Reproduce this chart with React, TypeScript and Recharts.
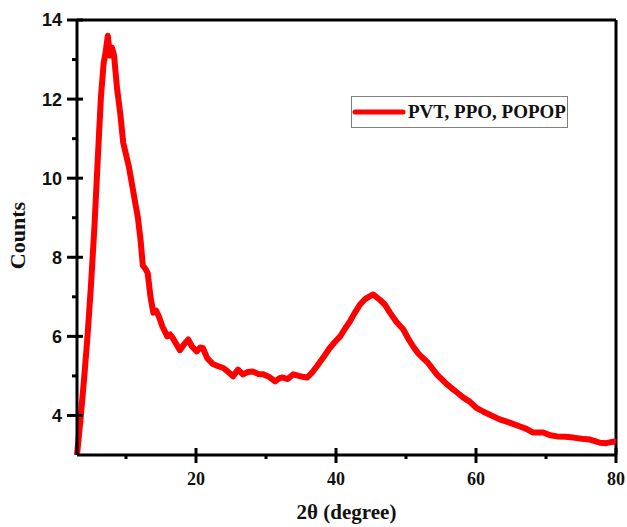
import React from 'react';
import {
  LineChart,
  Line,
  XAxis,
  YAxis,
  Legend,
  ReferenceLine,
} from 'recharts';

// 2θ positions (degree) and counts
const twoTheta = [
  3.0, 3.5, 4.0, 4.5, 5.0, 5.5, 6.0, 6.4, 6.8, 7.1, 7.4, 7.7, 8.0, 8.3, 8.7,
  9.2, 9.6, 10.0, 10.4, 10.9, 11.3, 11.7, 12.1, 12.4, 12.8, 13.1, 13.5, 13.9,
  14.3, 14.7, 15.2, 15.9, 16.3, 16.7, 17.2, 17.7, 18.3, 18.9, 19.4, 20.1, 20.6,
  21.0, 21.6, 22.4, 23.1, 23.9, 24.6, 25.3, 26.0, 26.7, 27.4, 28.1, 28.9, 29.6,
  30.4, 31.3, 32.0, 32.4, 33.1, 33.9, 34.7, 35.4, 35.9, 36.6, 37.3, 38.2, 39.0,
  39.8, 40.6, 41.3, 42.0, 42.7, 43.4, 44.2, 45.3, 46.3, 47.0, 47.7, 48.7, 49.6,
  50.3, 51.0, 51.7, 52.3, 53.1, 53.8, 54.4, 55.2, 55.9, 56.6, 57.3, 58.2, 59.1,
  60.0, 61.0, 62.2, 63.4, 64.8, 66.3, 67.2, 68.1, 69.6, 70.6, 71.6, 72.8, 73.9,
  75.1, 76.3, 77.0, 77.7, 78.6, 79.6, 80.0,
];

const counts = [
  3.0, 3.9, 4.9, 6.0, 7.3, 8.8, 10.6, 12.0, 12.9, 13.2, 13.6, 13.1, 13.3, 13.1,
  12.3, 11.6, 10.9, 10.6, 10.3, 9.8, 9.4, 9.0, 8.4, 7.8, 7.7, 7.6, 7.0, 6.6,
  6.65, 6.5, 6.25, 6.0, 6.05, 5.95, 5.8, 5.65, 5.8, 5.92, 5.75, 5.62, 5.72, 5.7,
  5.45, 5.3, 5.25, 5.2, 5.1, 4.99, 5.16, 5.04, 5.1, 5.11, 5.05, 5.04, 4.98,
  4.86, 4.95, 4.96, 4.92, 5.04, 5.0, 4.97, 4.96, 5.09, 5.25, 5.47, 5.68, 5.85,
  6.0, 6.2, 6.38, 6.6, 6.8, 6.95, 7.06, 6.92, 6.8, 6.6, 6.35, 6.18, 5.95, 5.75,
  5.58, 5.47, 5.34, 5.18, 5.04, 4.9, 4.78, 4.68, 4.58, 4.45, 4.35, 4.2, 4.1,
  4.0, 3.9, 3.82, 3.72, 3.66, 3.57, 3.57, 3.5, 3.47, 3.46, 3.44, 3.41, 3.39,
  3.35, 3.31, 3.3, 3.34, 3.32,
];

const xTicks = [10, 20, 30, 40, 50, 60, 70, 80];
const yTicks = [4, 5, 6, 7, 8, 9, 10, 11, 12, 13, 14];

const seriesName = 'PVT, PPO, POPOP';

const data = twoTheta.map((x, i) => ({ x, y: counts[i] }));

const serif = '"Liberation Serif", "Times New Roman", serif';
const sans = '"Liberation Sans", Arial, sans-serif';

const XTick = (props: any) => {
  const { x, y, payload } = props;
  const major = payload.value % 20 === 0;
  return (
    <g>
      {major ? (
        <line x1={x} x2={x} y1={y - 7} y2={y + 8} stroke="#000" strokeWidth={3} />
      ) : (
        <line x1={x} x2={x} y1={y} y2={y + 4} stroke="#000" strokeWidth={3} />
      )}
      {major && (
        <text
          x={x}
          y={y + 30}
          textAnchor="middle"
          style={{ fontFamily: serif, fontWeight: 'bold', fontSize: 18, fill: '#111' }}
        >
          {payload.value}
        </text>
      )}
    </g>
  );
};

const YTick = (props: any) => {
  const { x, y, payload } = props;
  const major = payload.value % 2 === 0;
  return (
    <g>
      {major ? (
        <line x1={x - 10} x2={x + 6} y1={y} y2={y} stroke="#000" strokeWidth={3} />
      ) : (
        <line x1={x - 5} x2={x} y1={y} y2={y} stroke="#000" strokeWidth={3} />
      )}
      {major && (
        <text
          x={x - 15}
          y={y}
          dy="0.36em"
          textAnchor="end"
          style={{ fontFamily: sans, fontWeight: 'bold', fontSize: 18, fill: '#111' }}
        >
          {payload.value}
        </text>
      )}
    </g>
  );
};

const LegendBox = () => (
  <div
    style={{
      width: 217,
      height: 32,
      boxSizing: 'border-box',
      border: '1px solid #808080',
      background: '#fff',
      display: 'flex',
      alignItems: 'center',
    }}
  >
    <svg width={56} height={10}>
      <line x1={3} x2={51} y1={5} y2={5} stroke="#ff0000" strokeWidth={5} strokeLinecap="round" />
    </svg>
    <span
      style={{
        fontFamily: serif,
        fontWeight: 'bold',
        fontSize: 19,
        color: '#111',
        whiteSpace: 'nowrap',
      }}
    >
      {seriesName}
    </span>
  </div>
);

export default function App() {
  return (
    <div style={{ position: 'absolute', left: 0, top: 0, background: '#fff' }}>
      <LineChart
        width={627}
        height={527}
        data={data}
        margin={{ top: 20, right: 11, left: 0, bottom: 0 }}
      >
        <XAxis
          dataKey="x"
          type="number"
          domain={[3, 80]}
          ticks={xTicks}
          height={72}
          tickSize={0}
          tickMargin={0}
          tickLine={false}
          tick={<XTick />}
          axisLine={{ stroke: '#000', strokeWidth: 3 }}
          label={{
            value: '2θ (degree)',
            position: 'center',
            dy: 21,
            style: {
              fontFamily: serif,
              fontWeight: 'bold',
              fontSize: 21,
              fill: '#111',
            },
          }}
        />
        <YAxis
          type="number"
          domain={[3, 14]}
          ticks={yTicks}
          width={77}
          tickSize={0}
          tickMargin={0}
          tickLine={false}
          tick={<YTick />}
          axisLine={{ stroke: '#000', strokeWidth: 3 }}
          label={{
            value: 'Counts',
            angle: -90,
            position: 'center',
            dx: -21,
            dy: -2,
            style: {
              fontFamily: serif,
              fontWeight: 'bold',
              fontSize: 22,
              fill: '#111',
            },
          }}
        />
        <ReferenceLine y={14} stroke="#000" strokeWidth={3} />
        <ReferenceLine x={80} stroke="#000" strokeWidth={3} />
        <Legend
          content={<LegendBox />}
          layout="horizontal"
          verticalAlign="middle"
          align="center"
          wrapperStyle={{ top: 96, left: 351, width: 217 }}
        />
        <Line
          type="linear"
          dataKey="y"
          name={seriesName}
          stroke="#ff0000"
          strokeWidth={6}
          strokeLinejoin="round"
          dot={false}
          isAnimationActive={false}
        />
      </LineChart>
    </div>
  );
}
